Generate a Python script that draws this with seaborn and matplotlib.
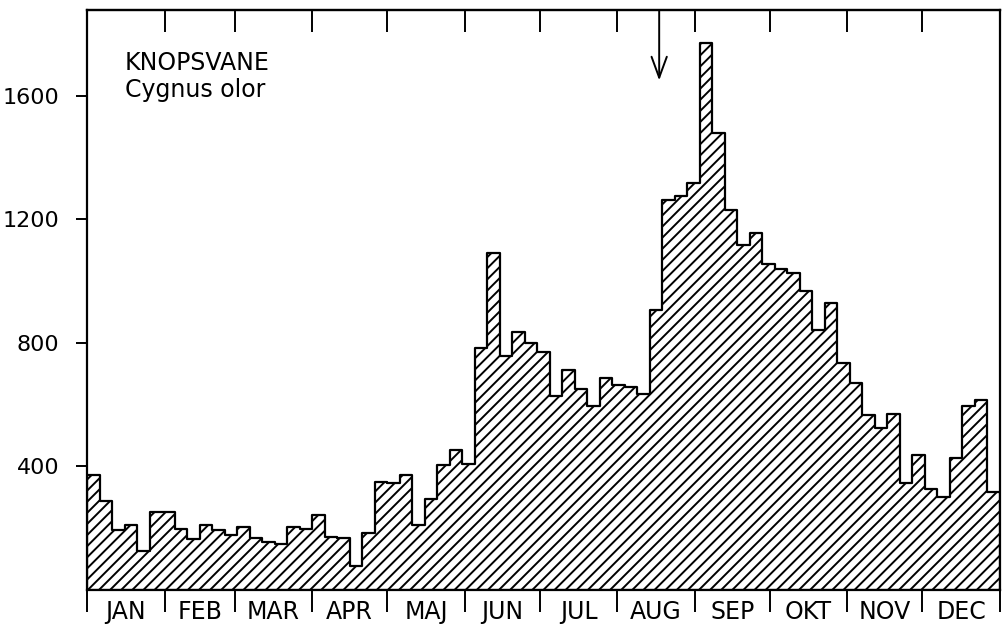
from matplotlib import pyplot as plt
import numpy as np
import pandas as pd
import seaborn as sns

# counts of mute swans per 5-day period (73 pentads)
counts = [372, 287, 195, 211, 127, 252, 254, 196, 164, 210, 195, 177, 203, 169,
          154, 148, 205, 197, 242, 172, 167, 78, 184, 351, 345, 372, 210, 296,
          406, 453, 409, 783, 1090, 758, 837, 799, 772, 629, 713, 651, 597, 686,
          665, 656, 634, 906, 1264, 1275, 1318, 1772, 1479, 1231, 1116, 1156,
          1055, 1038, 1025, 968, 842, 928, 734, 670, 566, 523, 571, 347, 436,
          326, 302, 426, 597, 616, 318]
months = ["JAN", "FEB", "MAR", "APR", "MAJ", "JUN", "JUL", "AUG", "SEP", "OKT", "NOV", "DEC"]
month_days = [0, 31, 59, 90, 120, 151, 181, 212, 243, 273, 304, 334, 365]
y_ticks = [400, 800, 1200, 1600]
arrow_pentad = 45.75

sns.set_style("ticks")
plt.rcParams['font.family'] = ['DejaVu Sans']
plt.rcParams['hatch.linewidth'] = 1.4
plt.rcParams['text.color'] = 'black'
plt.rcParams['xtick.color'] = 'black'
plt.rcParams['ytick.color'] = 'black'

n = len(counts)
df = pd.DataFrame({"pentad": np.arange(n) + 0.5, "count": counts})
bounds = np.array(month_days) / 5.0
centers = (bounds[:-1] + bounds[1:]) / 2

fig = plt.figure(figsize=(10.05, 6.25), dpi=100)
ax = fig.add_axes([0.0866, 0.056, 0.9084, 0.928])

sns.histplot(data=df, x="pentad", weights="count", bins=n, binrange=(0, n),
             element="step", fill=True, facecolor="white", edgecolor="black",
             linewidth=1.6, hatch="///", alpha=1, ax=ax)

ymax = 1878
ax.set_xlim(0, n)
ax.set_ylim(0, ymax)
ax.set_xlabel("")
ax.set_ylabel("")

for s in ax.spines.values():
    s.set_visible(True)
    s.set_linewidth(1.6)
    s.set_color("black")

# y axis
ax.set_yticks(y_ticks)
ax.set_yticklabels([str(v) for v in y_ticks], fontsize=16)
ax.tick_params(axis="y", direction="out", length=8, width=1.4, pad=12)

# bottom: month boundaries as ticks, names in between
ax.set_xticks(bounds)
ax.set_xticklabels([])
ax.tick_params(axis="x", which="major", direction="out", length=16, width=1.4)
ax.set_xticks(centers, minor=True)
ax.set_xticklabels(months, minor=True, fontsize=17)
ax.tick_params(axis="x", which="minor", length=0, pad=7)

# top: inward ticks at month boundaries
top = ax.secondary_xaxis("top")
top.set_xticks(bounds[1:-1])
top.set_xticklabels([])
top.tick_params(direction="in", length=16, width=1.4)
top.spines["top"].set_linewidth(1.6)

ax.text(3.0, 1684, "KNOPSVANE", fontsize=17, va="baseline")
ax.text(3.0, 1597, "Cygnus olor", fontsize=17, va="baseline")

ax.annotate("", xy=(arrow_pentad, 1650), xytext=(arrow_pentad, ymax),
            arrowprops=dict(arrowstyle="->, head_length=0.6, head_width=0.22",
                            lw=1.4, color="black", mutation_scale=25,
                            shrinkA=0, shrinkB=0))

plt.savefig("out.png", dpi=100)
